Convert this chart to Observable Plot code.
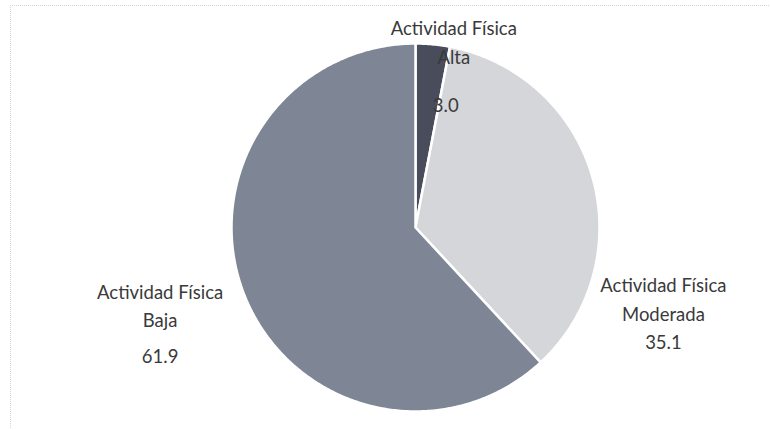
<!DOCTYPE html>
<html>
<head>
<meta charset="utf-8">
<script src="https://cdn.jsdelivr.net/npm/d3@7"></script>
<script src="https://cdn.jsdelivr.net/npm/@observablehq/plot@0.6"></script>
<style>
  html, body { margin: 0; padding: 0; background: #fff; }
  #wrap { position: relative; width: 770px; height: 430px; }
  #edge { position: absolute; left: 10px; top: 5px; width: 758px; height: 422px;
          border-top: 1px dotted #d4d4d4; border-left: 1px dotted #d4d4d4; pointer-events: none; }
  svg { font-family: Lato, "Open Sans", sans-serif; }
</style>
</head>
<body>
<div id="wrap"><div id="edge"></div></div>
<script>
// Data
const categories = ["Actividad Física Alta", "Actividad Física Moderada", "Actividad Física Baja"];
const values = [3.0, 35.1, 61.9];
const valueLabels = ["3.0", "35.1", "61.9"];
const colors = ["#484c5b", "#d5d6da", "#7e8594"];

const table = categories.map((c, i) => ({ name: c, value: values[i], label: valueLabels[i] }));
const arcs = d3.pie().value(d => d.value).sort(null)(table);

// Polygon vertices of each slice, derived from the pie angles
const poly = [];
arcs.forEach((a) => {
  poly.push({ cat: a.data.name, x: 0, y: 0 });
  const n = Math.max(4, Math.ceil((a.endAngle - a.startAngle) / 0.01));
  for (let k = 0; k <= n; k++) {
    const t = a.startAngle + (a.endAngle - a.startAngle) * k / n;
    poly.push({ cat: a.data.name, x: Math.sin(t), y: Math.cos(t) });
  }
  poly.push({ cat: a.data.name, x: 0, y: 0 });
});

const mid = arcs.map(a => (a.startAngle + a.endAngle) / 2);
const at = (i, r) => ({ x: Math.sin(mid[i]) * r, y: Math.cos(mid[i]) * r });

const lab = (i, r, text, dx, dy) => Plot.text([{ ...at(i, r), text }], {
  x: "x", y: "y", text: "text", dx, dy,
  fontSize: 18.5, fill: "#3a3a3a", lineHeight: 1.55, textAnchor: "middle"
});

const chart = Plot.plot({
  width: 770,
  height: 430,
  marginLeft: 231,
  marginRight: 171,
  marginTop: 43,
  marginBottom: 19,
  x: { domain: [-1, 1], axis: null },
  y: { domain: [-1, 1], axis: null },
  color: { domain: categories, range: colors },
  marks: [
    Plot.line(poly, { x: "x", y: "y", z: "cat", fill: "cat", stroke: "white", strokeWidth: 2.5, strokeLinejoin: "round" }),
    // Alta
    lab(0, 1.0, "Actividad Física\nAlta", 21, -4),
    lab(0, 0.65, valueLabels[0], 19, -6),
    // Moderada
    lab(1, 1.3, "Actividad Física\nModerada", 18, 136),
    lab(1, 1.3, valueLabels[1], 18, 178),
    // Baja
    lab(2, 1.45, "Actividad Física\nBaja", -7, -21),
    lab(2, 1.45, valueLabels[2], -7, 29)
  ]
});
document.getElementById("wrap").appendChild(chart);
</script>
</body>
</html>
